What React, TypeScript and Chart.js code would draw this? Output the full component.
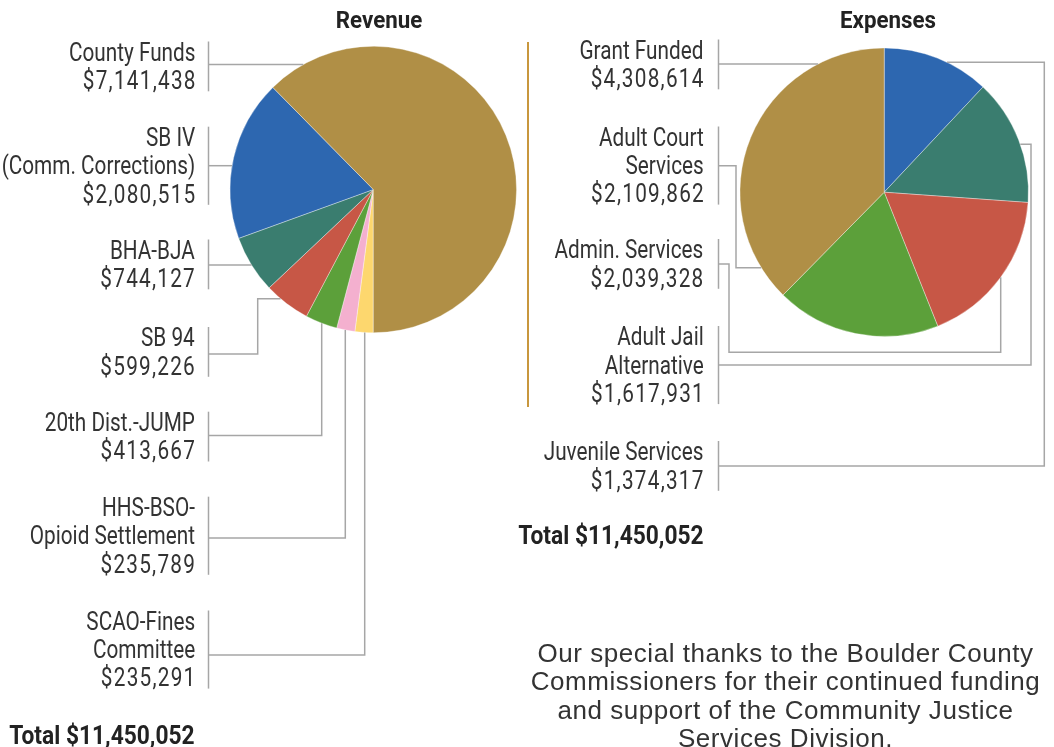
import React, { useEffect, useRef } from "react";
import { Chart, registerables } from "chart.js";

Chart.register(...registerables);

// ---------------- Data ----------------
const revenueCategories = [
  "County Funds",
  "SB IV (Comm. Corrections)",
  "BHA-BJA",
  "SB 94",
  "20th Dist.-JUMP",
  "HHS-BSO-Opioid Settlement",
  "SCAO-Fines Committee",
];
const revenueLabelLines = [
  ["County Funds"],
  ["SB IV", "(Comm. Corrections)"],
  ["BHA-BJA"],
  ["SB 94"],
  ["20th Dist.-JUMP"],
  ["HHS-BSO-", "Opioid Settlement"],
  ["SCAO-Fines", "Committee"],
];
const revenueValues = [7141438, 2080515, 744127, 599226, 413667, 235789, 235291];
const revenueColors = ["#B08F46", "#2D67B0", "#3A7D6F", "#C75746", "#5CA03A", "#F4B0CF", "#FDD76E"];
const revenueTotal = "$11,450,052";

const expenseCategories = [
  "Grant Funded",
  "Adult Court Services",
  "Admin. Services",
  "Adult Jail Alternative",
  "Juvenile Services",
];
const expenseLabelLines = [
  ["Grant Funded"],
  ["Adult Court", "Services"],
  ["Admin. Services"],
  ["Adult Jail", "Alternative"],
  ["Juvenile Services"],
];
const expenseValues = [4308614, 2109862, 2039328, 1617931, 1374317];
const expenseColors = ["#B08F46", "#5CA03A", "#C75746", "#3A7D6F", "#2D67B0"];
const expenseTotal = "$11,450,052";

const thanksLines = [
  "Our special thanks to the Boulder County",
  "Commissioners for their continued funding",
  "and support of the Community Justice",
  "Services Division.",
];

// ---------------- Layout ----------------
const W = 1054;
const H = 747;
const LINE_H = 28.3;
const LABEL_FS = 25;
const LABEL_SCALE = 0.83;
const VALUE_SPACING = 1.5;
const TEXT_COLOR = "#333333";
const LINE_COLOR = "#a6a6a6";
const FONT = "Roboto, 'Liberation Sans', sans-serif";

type End = "left" | "right" | "bottom" | "top";
type Pos = { baseline: number; leaderY: number; route: number[][]; end: End };

const revLayout = { textRight: 195, barX: 208.5, area: { l: 229.8, t: 46, r: 516.8, b: 333 } };
const revPositions: Pos[] = [
  { baseline: 61.5, leaderY: 64.5, route: [], end: "left" },
  { baseline: 146.7, leaderY: 165.7, route: [], end: "left" },
  { baseline: 259.5, leaderY: 265, route: [], end: "left" },
  { baseline: 347, leaderY: 354, route: [[257.7, 354], [257.7, 298.7]], end: "left" },
  { baseline: 431.7, leaderY: 435.5, route: [[321.7, 435.5]], end: "bottom" },
  { baseline: 516.7, leaderY: 538, route: [[345.3, 538]], end: "bottom" },
  { baseline: 630.5, leaderY: 655, route: [[364.7, 655]], end: "bottom" },
];

const expLayout = { textRight: 703.5, barX: 718.5, area: { l: 739.7, t: 47.7, r: 1028.7, b: 336.7 } };
const expPositions: Pos[] = [
  { baseline: 59.5, leaderY: 64, route: [], end: "left" },
  { baseline: 146.5, leaderY: 165.7, route: [[736, 165.7], [736, 267.7]], end: "left" },
  { baseline: 259, leaderY: 264, route: [[729, 264], [729, 352.3], [1000.7, 352.3]], end: "bottom" },
  { baseline: 346, leaderY: 365, route: [[1031, 365], [1031, 144.3]], end: "right" },
  { baseline: 461, leaderY: 466, route: [[1044.3, 466], [1044.3, 62.3]], end: "right" },
];

const fmt = (v: number) => "$" + v.toLocaleString("en-US");

// Roboto metrics: ascent .928, descent .244
const topFor = (baseline: number, fs: number, lh: number) =>
  baseline - ((lh - 1.172 * fs) / 2 + 0.928 * fs);

function makeLeaderPlugin(positions: Pos[], barX: number, lineCounts: number[]) {
  return {
    id: "leaders",
    afterDraw(chart: any) {
      const arc = chart.getDatasetMeta(0).data[0] as any;
      const cx = arc.x;
      const cy = arc.y;
      const r = arc.outerRadius;
      const ctx = chart.ctx as CanvasRenderingContext2D;
      ctx.save();
      ctx.strokeStyle = LINE_COLOR;
      ctx.lineWidth = 1.5;
      ctx.lineJoin = "miter";
      positions.forEach((p, i) => {
        const n = lineCounts[i];
        ctx.beginPath();
        ctx.moveTo(barX, p.baseline - 20);
        ctx.lineTo(barX, p.baseline + (n - 1) * LINE_H + 1.5);
        ctx.stroke();

        const pts = [[barX, p.leaderY], ...p.route];
        const last = pts[pts.length - 1];
        let end: number[];
        if (p.end === "left") end = [cx - Math.sqrt(r * r - (last[1] - cy) ** 2), last[1]];
        else if (p.end === "right") end = [cx + Math.sqrt(r * r - (last[1] - cy) ** 2), last[1]];
        else if (p.end === "bottom") end = [last[0], cy + Math.sqrt(r * r - (last[0] - cx) ** 2)];
        else end = [last[0], cy - Math.sqrt(r * r - (last[0] - cx) ** 2)];
        ctx.beginPath();
        ctx.moveTo(pts[0][0], pts[0][1]);
        for (let k = 1; k < pts.length; k++) ctx.lineTo(pts[k][0], pts[k][1]);
        ctx.lineTo(end[0], end[1]);
        ctx.stroke();
      });
      ctx.restore();
    },
  };
}

function makePie(
  canvas: HTMLCanvasElement,
  labels: string[],
  values: number[],
  colors: string[],
  rotation: number,
  area: { l: number; t: number; r: number; b: number },
  plugin: any
) {
  return new Chart(canvas, {
    type: "pie",
    data: {
      labels,
      datasets: [
        {
          data: values,
          backgroundColor: colors,
          borderColor: "rgba(255,255,255,0.7)",
          borderWidth: 0.5,
          hoverOffset: 0,
        },
      ],
    },
    options: {
      responsive: false,
      animation: false,
      events: [],
      rotation,
      layout: { padding: { left: area.l, top: area.t, right: W - area.r, bottom: H - area.b } },
      plugins: { legend: { display: false }, tooltip: { enabled: false }, title: { display: false } },
    } as any,
    plugins: [plugin],
  });
}

function LabelBlock(props: { lines: string[]; value: string; right: number; baseline: number }) {
  const { lines, value, right, baseline } = props;
  return (
    <div
      style={{
        position: "absolute",
        right: W - right,
        top: topFor(baseline, LABEL_FS, LINE_H),
        fontFamily: FONT,
        fontSize: LABEL_FS,
        lineHeight: `${LINE_H}px`,
        color: TEXT_COLOR,
        textAlign: "right",
        whiteSpace: "nowrap",
        transform: `scaleX(${LABEL_SCALE})`,
        transformOrigin: "right center",
      }}
    >
      {lines.map((l, i) => (
        <div key={i}>{l}</div>
      ))}
      <div style={{ letterSpacing: `${VALUE_SPACING}px`, marginRight: -VALUE_SPACING }}>{value}</div>
    </div>
  );
}

export default function App() {
  const revRef = useRef<HTMLCanvasElement>(null);
  const expRef = useRef<HTMLCanvasElement>(null);

  useEffect(() => {
    document.body.style.margin = "0";
    const revCounts = revenueLabelLines.map((l) => l.length + 1);
    const expCounts = expenseLabelLines.map((l) => l.length + 1);
    const rev = makePie(
      revRef.current!,
      [...revenueCategories].reverse(),
      [...revenueValues].reverse(),
      [...revenueColors].reverse(),
      180,
      revLayout.area,
      makeLeaderPlugin(revPositions, revLayout.barX, revCounts)
    );
    const exp = makePie(
      expRef.current!,
      [...expenseCategories].reverse(),
      [...expenseValues].reverse(),
      [...expenseColors].reverse(),
      0,
      expLayout.area,
      makeLeaderPlugin(expPositions, expLayout.barX, expCounts)
    );
    return () => {
      rev.destroy();
      exp.destroy();
    };
  }, []);

  const canvasStyle: React.CSSProperties = { position: "absolute", left: 0, top: 0, width: W, height: H };
  const titleStyle = (cx: number): React.CSSProperties => ({
    position: "absolute",
    left: cx - 100,
    width: 200,
    top: topFor(28.7, 24, 30),
    fontFamily: FONT,
    fontWeight: 700,
    fontSize: 24,
    lineHeight: "30px",
    color: "#222",
    textAlign: "center",
    transform: "scaleX(0.93)",
  });

  return (
    <div style={{ position: "absolute", left: 0, top: 0, width: W, height: H, overflow: "hidden", background: "#fff" }}>
      <canvas ref={revRef} width={W} height={H} style={canvasStyle} />
      <canvas ref={expRef} width={W} height={H} style={canvasStyle} />

      {/* Titles */}
      <div style={titleStyle(379)}>Revenue</div>
      <div style={titleStyle(887.8)}>Expenses</div>

      {/* Gold divider */}
      <div style={{ position: "absolute", left: 527.3, top: 41.7, width: 2, height: 365, background: "#C8973E" }} />

      {/* Revenue labels */}
      {revenueLabelLines.map((lines, i) => (
        <LabelBlock
          key={"r" + i}
          lines={lines}
          value={fmt(revenueValues[i])}
          right={revLayout.textRight}
          baseline={revPositions[i].baseline}
        />
      ))}
      {/* Expense labels */}
      {expenseLabelLines.map((lines, i) => (
        <LabelBlock
          key={"e" + i}
          lines={lines}
          value={fmt(expenseValues[i])}
          right={expLayout.textRight}
          baseline={expPositions[i].baseline}
        />
      ))}

      {/* Totals */}
      {[
        { right: 195, baseline: 745, text: "Total " + revenueTotal },
        { right: 704, baseline: 545, text: "Total " + expenseTotal },
      ].map((t, i) => (
        <div
          key={"t" + i}
          style={{
            position: "absolute",
            right: W - t.right,
            top: topFor(t.baseline, 25, 30),
            fontFamily: FONT,
            fontWeight: 700,
            fontSize: 25,
            lineHeight: "30px",
            color: "#222",
            whiteSpace: "nowrap",
            transform: "scaleX(0.91)",
            transformOrigin: "right center",
          }}
        >
          {t.text}
        </div>
      ))}

      {/* Thanks paragraph */}
      <div
        style={{
          position: "absolute",
          left: 785.5 - 270,
          width: 540,
          top: 662.3 - ((LINE_H - 1.117 * 26) / 2 + 0.905 * 26),
          fontFamily: "'Liberation Sans', Arial, sans-serif",
          fontSize: 26,
          lineHeight: `${LINE_H}px`,
          letterSpacing: "0.55px",
          color: "#333",
          textAlign: "center",
          whiteSpace: "nowrap",
        }}
      >
        {thanksLines.map((l, i) => (
          <div key={i}>{l}</div>
        ))}
      </div>
    </div>
  );
}
